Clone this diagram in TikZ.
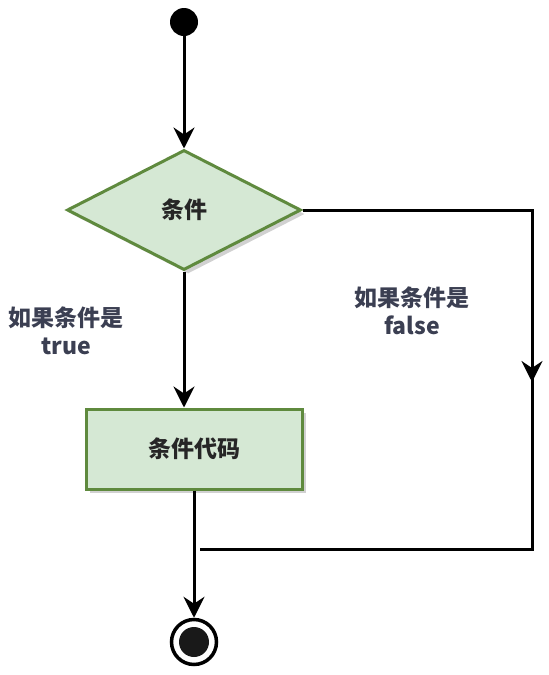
\documentclass[tikz,border=0pt]{standalone}
\usepackage{fontspec}
\newfontfamily\cjk{Noto Sans CJK SC}
\usepackage{tikz}
\usetikzlibrary{arrows.meta}
\usetikzlibrary{shapes.geometric}
\usetikzlibrary{shadows}
\definecolor{flowfill}{HTML}{D5E8D4}
\definecolor{flowline}{HTML}{5F8A3E}
\definecolor{guardtext}{HTML}{3B3F52}

\begin{document}
\begin{tikzpicture}[x = 1pt, y = -1pt,
    flow/.style = {draw = flowline, fill = flowfill, line width = 3pt, inner sep = 0,
        text = black!85, font = \cjk\bfseries\fontsize{23}{28}\selectfont,
        drop shadow = {shadow xshift = 4pt, shadow yshift = -4pt, opacity = .18, fill = black}},
    link/.style = {line width = 3pt, -{Stealth[length = 21pt, width = 21pt, inset = 7pt]}},
    guard/.style = {text = guardtext, align = center,
        font = \cjk\bfseries\fontsize{23}{28}\selectfont}]
    \useasboundingbox (0, 0) rectangle (549, 675);

    %% start and end
    \node[circle, fill = black, minimum size = 28pt, inner sep = 0] (start) at (184, 22) {};
    \node[circle, draw, line width = 3.5pt, minimum size = 45pt, inner sep = 0] (stop) at (194, 642) {};
    \node[circle, fill = black!90, minimum size = 30pt, inner sep = 0] (stopdot) at (194, 642) {};

    %% condition and body
    \node[flow, diamond, minimum width = 234pt, minimum height = 120pt] (cond) at (184, 210) {条件};
    \node[flow, rectangle, minimum width = 216pt, minimum height = 80pt] (body) at (194, 449) {条件代码};

    %% labels
    \node[guard] (iftrue) at (66, 331) {如果条件是\\true};
    \node[guard] (iffalse) at (412, 311) {如果条件是\\false};

    %% connectors
    \draw[link] (start) -- (cond.north);
    \draw[link] (cond.south) -- (cond.south |- body.north);
    \draw[link] (body.south) -- (stop.north);

    \coordinate (turn) at (532, 210);
    \coordinate (mid) at (532, 382);
    \coordinate (back) at (532, 549);
    \coordinate (join) at (200, 549);
    \draw[line width = 3pt] (cond.east) -- (turn) -- (back) -- (join);
    \draw[link] (turn) -- (mid);
\end{tikzpicture}
\end{document}
